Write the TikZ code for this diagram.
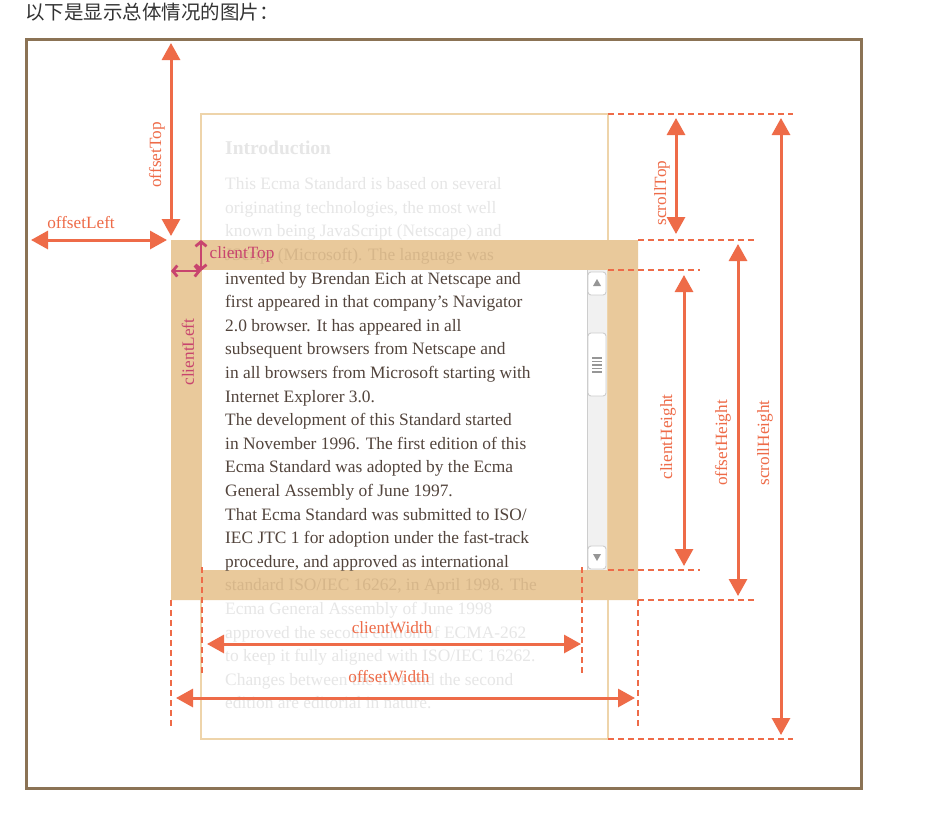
\documentclass[tikz,border=0pt]{standalone}
\usepackage{fontspec}
\setmainfont{Liberation Serif}
\newfontfamily\cjk{Noto Sans CJK SC}
\usetikzlibrary{arrows.meta}
\definecolor{framec}{RGB}{139,115,85}
\definecolor{tanfill}{RGB}{233,201,155}
\definecolor{tanline}{RGB}{238,212,170}
\definecolor{orng}{RGB}{238,107,72}
\definecolor{pinkc}{RGB}{200,68,110}
\definecolor{darktxt}{RGB}{82,68,60}
\definecolor{fadetxt}{RGB}{230,230,230}
\definecolor{tantxt}{RGB}{214,182,138}
\definecolor{captxt}{RGB}{51,51,51}
\definecolor{sbbg}{RGB}{241,241,241}
\definecolor{sbline}{RGB}{205,205,205}
\definecolor{sbmark}{RGB}{150,150,150}
\tikzset{
  bodytxt/.style={anchor=base west, inner sep=0pt, font=\fontsize{17.4}{20}\selectfont},
  darkline/.style={bodytxt, text=darktxt},
  fadeline/.style={bodytxt, text=fadetxt},
  tanlinetxt/.style={bodytxt, text=tantxt},
  lbl/.style={inner sep=0pt, font=\fontsize{17.2}{20}\selectfont, text=orng},
  plbl/.style={inner sep=0pt, font=\fontsize{17.2}{20}\selectfont, text=pinkc},
  dimarr/.style={draw=orng, line width=3pt, {Triangle[width=18pt,length=17pt]}-{Triangle[width=18pt,length=17pt]}},
  pinkarr/.style={draw=pinkc, line width=2.8pt, {Straight Barb[length=4.5pt,width=11pt]}-{Straight Barb[length=4.5pt,width=11pt]}},
  dashln/.style={draw=orng, line width=2.6pt, dash pattern=on 6pt off 4pt},
  sbbtn/.style={fill=white, draw=sbline, line width=0.9pt, rounded corners=3pt},
}
\begin{document}
\begin{tikzpicture}[x=1pt,y=-1pt]
\useasboundingbox (0,0) rectangle (937,812);
\fill[white] (0,0) rectangle (937,812);

% caption
\node[anchor=west, inner sep=0pt, font=\cjk\fontsize{19.5}{21}\selectfont, text=captxt] (cap) at (25,12) {以下是显示总体情况的图片：};

% outer frame
\draw[framec, line width=3pt] (26,39) rectangle (861,788);

% faded overflow text
\node[fadeline, font=\bfseries\fontsize{19.5}{22}\selectfont] (intro) at (225,154) {Introduction};
\node[fadeline] (l1) at (225,189.6) {This Ecma Standard is based on several};
\node[fadeline] (l2) at (225,213.2) {originating technologies, the most well};
\node[fadeline] (l3) at (225,236.8) {known being JavaScript (Netscape) and};
\node[fadeline] (l19) at (225,614.4) {Ecma General Assembly of June 1998};
\node[fadeline] (l20) at (225,638) {approved the second edition of ECMA-262};
\node[fadeline] (l21) at (225,661.6) {to keep it fully aligned with ISO/IEC 16262.};
\node[fadeline] (l22) at (225,685.2) {Changes between the first and the second};
\node[fadeline] (l23) at (225,708.8) {edition are editorial in nature.};

% scroll content outline
\draw[tanline, line width=2.5pt] (201,114) rectangle (608,739);

% element border band (offset box) with client area
\fill[tanfill, even odd rule] (171,240) rectangle (638,600) (202,270) rectangle (608,570);
\fill[white] (202,270) rectangle (587,570);

% text under the border band
\node[tanlinetxt] (l4) at (225,260.4) {JScript (Microsoft). The language was};
\node[tanlinetxt] (l18) at (225,590.8) {standard ISO/IEC 16262, in April 1998. The};

% visible text
\begin{scope}
\clip (202,270) rectangle (587,570);
\node[darkline] (l5) at (225,284) {invented by Brendan Eich at Netscape and};
\node[darkline] (l6) at (225,307.6) {first appeared in that company’s Navigator};
\node[darkline] (l7) at (225,331.2) {2.0 browser. It has appeared in all};
\node[darkline] (l8) at (225,354.8) {subsequent browsers from Netscape and};
\node[darkline] (l9) at (225,378.4) {in all browsers from Microsoft starting with};
\node[darkline] (l10) at (225,402) {Internet Explorer 3.0.};
\node[darkline] (l11) at (225,425.6) {The development of this Standard started};
\node[darkline] (l12) at (225,449.2) {in November 1996. The first edition of this};
\node[darkline] (l13) at (225,472.8) {Ecma Standard was adopted by the Ecma};
\node[darkline] (l14) at (225,496.4) {General Assembly of June 1997.};
\node[darkline] (l15) at (225,520) {That Ecma Standard was submitted to ISO/};
\node[darkline] (l16) at (225,543.6) {IEC JTC 1 for adoption under the fast-track};
\node[darkline] (l17) at (225,567.2) {procedure, and approved as international};
\end{scope}

% scrollbar
\fill[sbbg] (587,270) rectangle (607,570);
\draw[sbline, line width=0.6pt] (587,270) -- (587,570);
\draw[sbbtn] (588,272) rectangle (606,295);
\fill[sbmark] (593,286) -- (601,286) -- (597,279) -- cycle;
\draw[sbbtn] (588,333) rectangle (606,396);
\foreach \gy in {358,361.5,365,368.5,372} {
  \draw[sbmark, line width=1.6pt] (592,\gy) -- (602,\gy);
}
\draw[sbbtn] (588,546) rectangle (606,569);
\fill[sbmark] (593,554) -- (601,554) -- (597,561) -- cycle;

% dashed extension lines
\coordinate (d1a) at (608,114); \coordinate (d1b) at (793,114);
\coordinate (d2a) at (638,240); \coordinate (d2b) at (757,240);
\coordinate (d3a) at (608,270); \coordinate (d3b) at (700,270);
\coordinate (d4a) at (608,570); \coordinate (d4b) at (700,570);
\coordinate (d5a) at (638,600); \coordinate (d5b) at (757,600);
\coordinate (d6a) at (608,739); \coordinate (d6b) at (793,739);
\coordinate (d7a) at (171,600); \coordinate (d7b) at (171,727);
\coordinate (d8a) at (202,567); \coordinate (d8b) at (202,675);
\coordinate (d9a) at (582,567); \coordinate (d9b) at (582,675);
\coordinate (d10a) at (638,600); \coordinate (d10b) at (638,727);
\foreach \d in {d1,d2,d3,d4,d5,d6,d7,d8,d9,d10} {
  \draw[dashln] (\d a) -- (\d b);
}

% offsetTop / offsetLeft
\coordinate (otA) at (171,43); \coordinate (otB) at (171,236);
\draw[dimarr] (otA) -- (otB);
\node[lbl, rotate=90] (otL) at (157,155) {offsetTop};
\coordinate (olA) at (31,240); \coordinate (olB) at (167,240);
\draw[dimarr] (olA) -- (olB);
\node[lbl] (olL) at (81,223) {offsetLeft};

% clientTop / clientLeft
\coordinate (ctA) at (201,240); \coordinate (ctB) at (201,271);
\coordinate (clA) at (171,271);
\draw[pinkarr] (ctA) -- (ctB);
\draw[pinkarr] (clA) -- (ctB);
\node[plbl] (ctL) at (242,254) {clientTop};
\node[plbl, rotate=90] (clL) at (188,352) {clientLeft};

% scrollTop
\coordinate (stA) at (676,118); \coordinate (stB) at (676,234);
\draw[dimarr] (stA) -- (stB);
\node[lbl, rotate=90] (stL) at (662,193) {scrollTop};

% clientHeight / offsetHeight / scrollHeight
\coordinate (chA) at (684,275); \coordinate (chB) at (684,566);
\draw[dimarr] (chA) -- (chB);
\node[lbl, rotate=90] (chL) at (668,437) {clientHeight};
\coordinate (ohA) at (738,244); \coordinate (ohB) at (738,596);
\draw[dimarr] (ohA) -- (ohB);
\node[lbl, rotate=90] (ohL) at (723,443) {offsetHeight};
\coordinate (shA) at (781,118); \coordinate (shB) at (781,735);
\draw[dimarr] (shA) -- (shB);
\node[lbl, rotate=90] (shL) at (765,443) {scrollHeight};

% clientWidth / offsetWidth
\coordinate (cwA) at (207,644); \coordinate (cwB) at (581,644);
\draw[dimarr] (cwA) -- (cwB);
\node[lbl] (cwL) at (392,628) {clientWidth};
\coordinate (owA) at (176,698); \coordinate (owB) at (635,698);
\draw[dimarr] (owA) -- (owB);
\node[lbl] (owL) at (389,677) {offsetWidth};
\end{tikzpicture}
\end{document}
